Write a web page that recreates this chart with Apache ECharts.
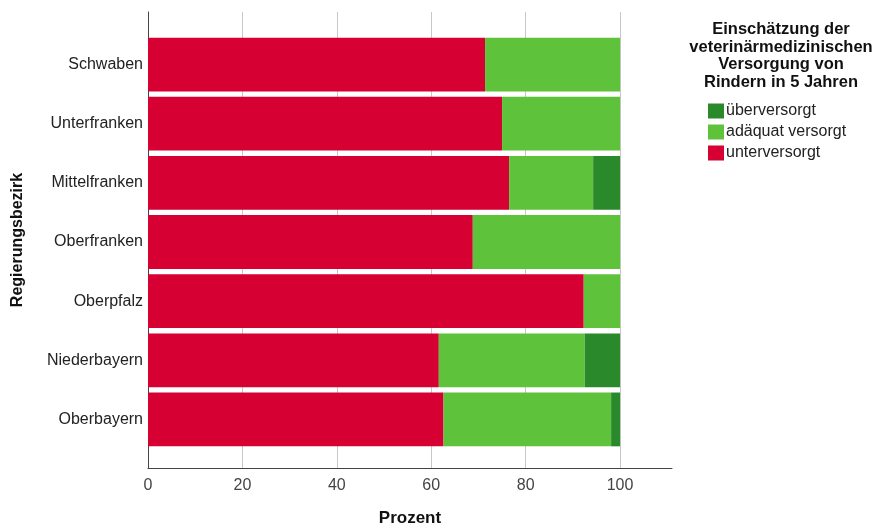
<!DOCTYPE html>
<html>
<head>
<meta charset="utf-8">
<script src="https://cdn.jsdelivr.net/npm/echarts@6/dist/echarts.min.js"></script>
<style>
  html, body { margin: 0; padding: 0; background: #fff; }
  #chart { width: 872px; height: 532px; }
</style>
</head>
<body>
<div id="chart"></div>
<script>
// Regierungsbezirke, von oben nach unten
const categories = ['Schwaben', 'Unterfranken', 'Mittelfranken', 'Oberfranken', 'Oberpfalz', 'Niederbayern', 'Oberbayern'];
// Prozentwerte je Kategorie
const unterversorgt = [71.4, 75.0, 76.5, 68.8, 92.3, 61.6, 62.6];
const adaequat = [28.6, 25.0, 17.8, 31.2, 7.7, 30.9, 35.5];
const ueberversorgt = [0, 0, 5.7, 0, 0, 7.5, 1.9];
const xTicks = [0, 20, 40, 60, 80, 100];

const font = 'Liberation Sans, Arial, sans-serif';

const chart = echarts.init(document.getElementById('chart'));

chart.setOption({
    animation: false,
    textStyle: { fontFamily: font },
    title: {
        text: 'Einschätzung der\nveterinärmedizinischen\nVersorgung von\nRindern in 5 Jahren',
        left: 776,
        top: 16,
        textAlign: 'center',
        textStyle: { fontSize: 16.5, fontWeight: 'bold', color: '#111', lineHeight: 17.5, fontFamily: font }
    },
    legend: {
        data: ['überversorgt', 'adäquat versorgt', 'unterversorgt'],
        orient: 'vertical',
        left: 703,
        top: 98,
        icon: 'rect',
        itemWidth: 16,
        itemHeight: 15,
        itemGap: 5,
        textStyle: { fontSize: 16, color: '#222', padding: [0, 0, 0, -3], fontFamily: font }
    },
    grid: [
        // Achsen und Gitterlinien
        { left: 148, right: 200, top: 12, bottom: 60 },
        // Balken
        { left: 148, right: 200, top: 35, bottom: 83 }
    ],
    xAxis: [
        {
            gridIndex: 0,
            type: 'value',
            min: 0,
            max: 111,
            interval: 20,
            name: 'Prozent',
            nameLocation: 'middle',
            nameGap: 42,
            nameTextStyle: { fontSize: 17, fontWeight: 'bold', color: '#111' },
            axisLine: { show: true, lineStyle: { color: '#444', width: 1 } },
            axisTick: { show: false },
            axisLabel: {
                fontSize: 16, color: '#444', margin: 10, showMaxLabel: false,
                formatter: v => xTicks.includes(v) ? String(v) : ''
            },
            splitLine: { show: true, showMinLine: false, showMaxLine: false, lineStyle: { color: '#c8c8c8', width: 1 } }
        },
        {
            gridIndex: 1,
            type: 'value',
            min: 0,
            max: 111,
            show: false
        }
    ],
    yAxis: [
        {
            gridIndex: 0,
            type: 'value',
            name: 'Regierungsbezirk',
            nameLocation: 'middle',
            nameGap: 122,
            nameRotate: 90,
            nameTextStyle: { fontSize: 16, fontWeight: 'bold', color: '#111' },
            axisLine: { show: true, lineStyle: { color: '#444', width: 1 } },
            axisTick: { show: false },
            axisLabel: { show: false },
            splitLine: { show: false }
        },
        {
            gridIndex: 1,
            type: 'category',
            data: categories,
            inverse: true,
            axisLine: { show: false },
            axisTick: { show: false },
            axisLabel: { fontSize: 16, color: '#222', margin: 5 }
        }
    ],
    series: [
        {
            name: 'unterversorgt', type: 'bar', stack: 'total',
            xAxisIndex: 1, yAxisIndex: 1,
            data: unterversorgt, barCategoryGap: '9%',
            itemStyle: { color: '#d70033' }
        },
        {
            name: 'adäquat versorgt', type: 'bar', stack: 'total',
            xAxisIndex: 1, yAxisIndex: 1,
            data: adaequat, barCategoryGap: '9%',
            itemStyle: { color: '#5ec23a' }
        },
        {
            name: 'überversorgt', type: 'bar', stack: 'total',
            xAxisIndex: 1, yAxisIndex: 1,
            data: ueberversorgt, barCategoryGap: '9%',
            itemStyle: { color: '#2a8a2b' }
        }
    ]
});

window.onresize = function () {
    chart.resize();
};
</script>
</body>
</html>
